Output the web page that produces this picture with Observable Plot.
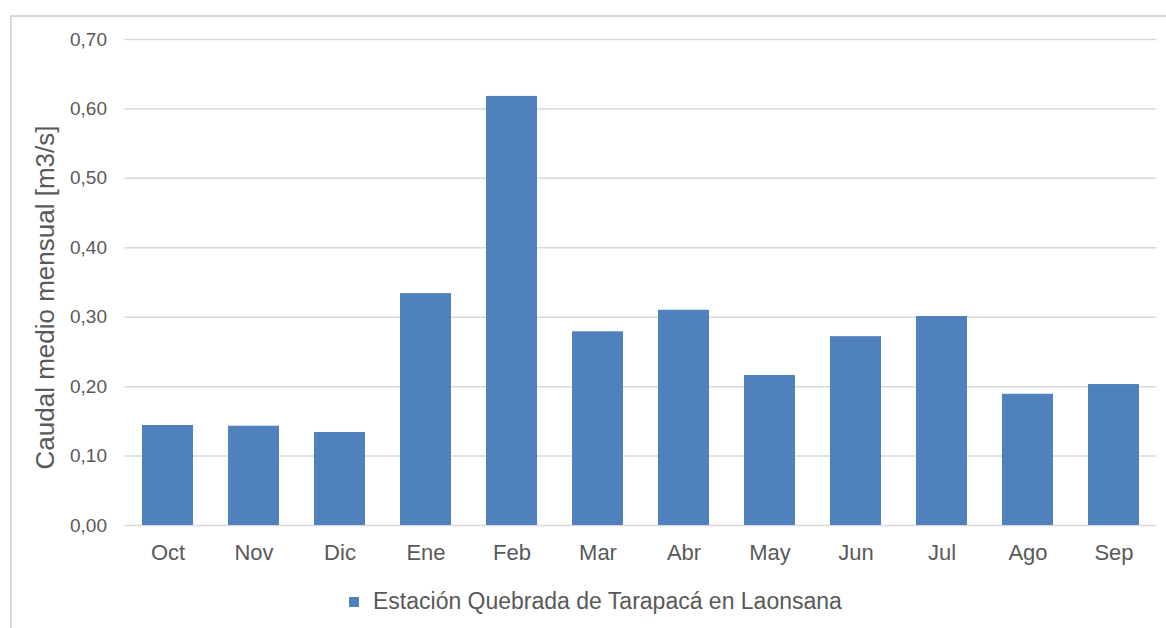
<!DOCTYPE html>
<html>
<head>
<meta charset="utf-8">
<script src="https://cdn.jsdelivr.net/npm/d3@7"></script>
<script src="https://cdn.jsdelivr.net/npm/@observablehq/plot@0.6"></script>
<style>
  html, body { margin: 0; padding: 0; background: #fff; }
  body { width: 1166px; height: 628px; position: relative; overflow: hidden; font-family: "Liberation Sans", Arial, sans-serif; }
  #frame { position: absolute; left: 10px; top: 15px; width: 1200px; height: 700px; border: 2px solid #d9d9d9; box-sizing: border-box; }
  #chart { position: absolute; left: 0; top: 0; }
  #legend { position: absolute; left: 349px; top: 588px; display: flex; align-items: center; color: #595959; font-size: 23px; white-space: nowrap; }
  #legend .sw { width: 10px; height: 10px; background: #4f81bd; margin-right: 14px; }
</style>
</head>
<body>
<div id="frame"></div>
<div id="chart"></div>
<div id="legend"><span class="sw"></span><span id="legendText"></span></div>
<script>
const months = ["Oct", "Nov", "Dic", "Ene", "Feb", "Mar", "Abr", "May", "Jun", "Jul", "Ago", "Sep"];
const caudal = [0.144, 0.143, 0.134, 0.334, 0.618, 0.279, 0.310, 0.216, 0.272, 0.301, 0.189, 0.203];
const yTicks = [0, 0.1, 0.2, 0.3, 0.4, 0.5, 0.6, 0.7];
const seriesName = "Estación Quebrada de Tarapacá en Laonsana";
const yLabel = "Caudal medio mensual [m3/s]";

const data = months.map((m, i) => ({ month: m, value: caudal[i] }));
const fmt = d => d.toFixed(2).replace(".", ",");

const chart = Plot.plot({
  width: 1166,
  height: 580,
  marginLeft: 124.5,
  marginRight: 9.5,
  marginTop: 39,
  marginBottom: 55,
  style: { fontFamily: "Liberation Sans, Arial, sans-serif", color: "#595959", background: "transparent" },
  x: { domain: months, paddingInner: 0.41, paddingOuter: 0.205, label: null },
  y: { domain: [0, 0.7], ticks: yTicks, label: null },
  marks: [
    Plot.gridY(yTicks, { stroke: "#d9d9d9", strokeOpacity: 1, strokeWidth: 1.5 }),
    Plot.barY(data, { x: "month", y: "value", fill: "#4f81bd" }),
    Plot.axisY(yTicks, { tickSize: 0, tickPadding: 18, tickFormat: fmt, fontSize: 19, fill: "#595959", label: null }),
    Plot.axisX({ tickSize: 0, tickPadding: 19, fontSize: 22, fill: "#595959", label: null }),
    Plot.text([yLabel], { frameAnchor: "left", dx: -79, dy: 15, rotate: -90, fontSize: 26, fill: "#595959", textAnchor: "middle" })
  ]
});
document.getElementById("chart").appendChild(chart);
document.getElementById("legendText").textContent = seriesName;
</script>
</body>
</html>
